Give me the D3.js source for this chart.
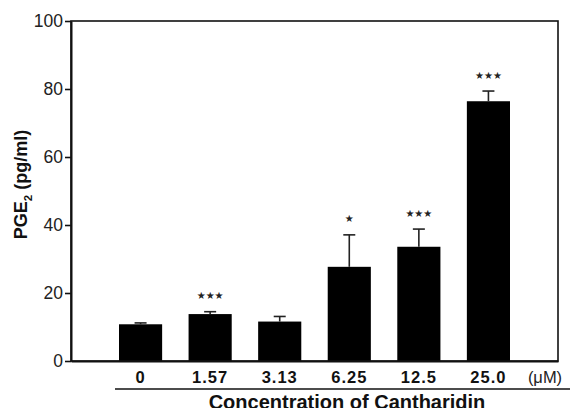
<!DOCTYPE html>
<html>
<head>
<meta charset="utf-8">
<script src="https://cdn.jsdelivr.net/npm/d3@7"></script>
<style>
body{margin:0;background:#fff;}
svg{display:block;font-family:"Liberation Sans",Arial,sans-serif;}
</style>
</head>
<body>
<svg width="570" height="408"></svg>
<script>
// PGE2 release vs cantharidin dose
var concentrations=["0","1.57","3.13","6.25","12.5","25.0"];
var means=[10.8,13.8,11.6,27.7,33.6,76.4];
var errs=[0.4,0.7,1.5,9.4,5.2,3.0];
var marks=["","***","","*","***","***"];
var yTicks=[0,20,40,60,80,100];

var plotLeft=71,plotTop=21,plotRight=558,plotBottom=361;
var svg=d3.select("svg");

var x=d3.scaleBand().domain(concentrations).range([plotLeft,plotRight])
	.paddingInner(0.38).paddingOuter(0.69);
var y=d3.scaleLinear().domain([0,100]).range([plotBottom,plotTop]);

function mid(d) {
	return x(d)+x.bandwidth()/2;
}

// bars
svg.selectAll(".bar").data(concentrations).enter().append("rect")
	.attr("x",function(d){return x(d);})
	.attr("y",function(d,i){return y(means[i]);})
	.attr("width",x.bandwidth())
	.attr("height",function(d,i){return plotBottom-y(means[i]);})
	.attr("fill","#000");

// error bars
var eb=svg.selectAll(".err").data(concentrations).enter().append("g");
eb.append("line")
	.attr("x1",mid).attr("x2",mid)
	.attr("y1",function(d,i){return y(means[i]);})
	.attr("y2",function(d,i){return y(means[i]+errs[i]);})
	.attr("stroke","#222").attr("stroke-width",1.6);
eb.append("line")
	.attr("x1",function(d){return mid(d)-6;})
	.attr("x2",function(d){return mid(d)+6;})
	.attr("y1",function(d,i){return y(means[i]+errs[i]);})
	.attr("y2",function(d,i){return y(means[i]+errs[i]);})
	.attr("stroke","#222").attr("stroke-width",1.6);

// significance stars
svg.selectAll(".sig").data(concentrations).enter().append("text")
	.attr("x",mid)
	.attr("y",function(d,i){return y(means[i]+errs[i])-16;})
	.attr("dy","0.35em")
	.attr("text-anchor","middle")
	.style("font-family","'DejaVu Sans'")
	.style("font-size","10px")
	.style("fill","#222")
	.text(function(d,i){return marks[i].replace(/\*/g,"\u2605");});

// frame
svg.append("rect").attr("x",plotLeft).attr("y",plotTop)
	.attr("width",plotRight-plotLeft).attr("height",plotBottom-plotTop)
	.attr("fill","none").attr("stroke","#111").attr("stroke-width",1.6);

// y axis
var yAxis=svg.append("g").attr("transform","translate("+plotLeft+",0)")
	.call(d3.axisLeft(y).tickValues(yTicks).tickSize(6).tickPadding(2).tickSizeOuter(0));
yAxis.select(".domain").attr("stroke","#111").attr("stroke-width",2);
yAxis.selectAll(".tick line").attr("stroke","#111").attr("stroke-width",1.6);
yAxis.selectAll("text").style("font-size","17.5px").style("fill","#222")
	.style("font-family","'Liberation Sans',Arial,sans-serif");

// x axis labels
var xAxis=svg.append("g").attr("transform","translate(0,"+plotBottom+")")
	.call(d3.axisBottom(x).tickSize(0).tickPadding(10));
xAxis.select(".domain").attr("stroke","#111").attr("stroke-width",2);
xAxis.selectAll("text").style("font-size","16.5px").style("font-weight","bold")
	.style("letter-spacing","1px").style("fill","#111")
	.style("font-family","'Liberation Sans',Arial,sans-serif");

svg.append("text").attr("x",545).attr("y",382.5).attr("text-anchor","middle")
	.style("font-size","16.5px").style("fill","#222").text("(\u03bcM)");

svg.append("line").attr("x1",115).attr("x2",570).attr("y1",389).attr("y2",389)
	.attr("stroke","#111").attr("stroke-width",1.6);

svg.append("text").attr("x",347).attr("y",408.5).attr("text-anchor","middle")
	.style("font-size","20px").style("font-weight","bold").style("fill","#111")
	.text("Concentration of Cantharidin");

// y label
var yl=svg.append("text").attr("transform","translate(27,184.5) rotate(-90)")
	.attr("text-anchor","middle")
	.style("font-size","18px").style("font-weight","bold").style("fill","#111");
yl.append("tspan").text("PGE");
yl.append("tspan").attr("dy",5).style("font-size","11.5px").text("2");
yl.append("tspan").attr("dy",-5).text(" (pg/ml)");
</script>
</body>
</html>
